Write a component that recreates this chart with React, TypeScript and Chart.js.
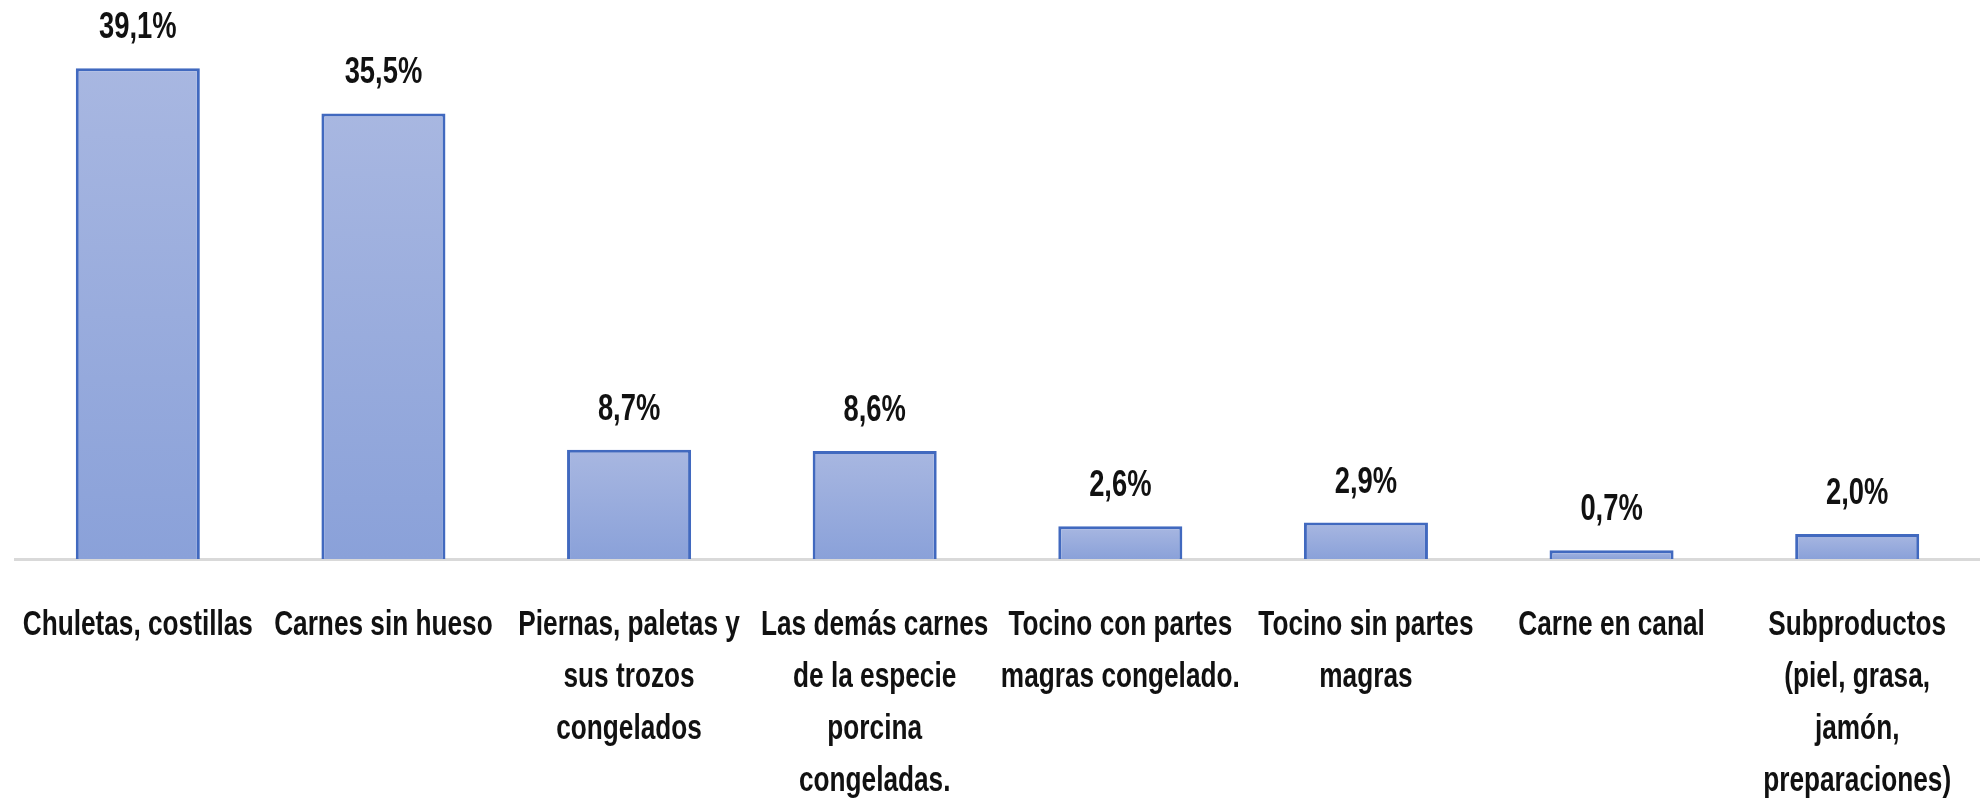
import React, { useEffect, useRef } from "react";
import { Chart, registerables } from "chart.js";

Chart.register(...registerables);

const categories: string[][] = [
  ["Chuletas, costillas"],
  ["Carnes sin hueso"],
  ["Piernas, paletas y", "sus trozos", "congelados"],
  ["Las demás carnes", "de la especie", "porcina", "congeladas."],
  ["Tocino con partes", "magras congelado."],
  ["Tocino sin partes", "magras"],
  ["Carne en canal"],
  ["Subproductos", "(piel, grasa,", "jamón,", "preparaciones)"],
];

const shares: number[] = [39.1, 35.5, 8.7, 8.6, 2.6, 2.9, 0.7, 2.0];

const FONT = '"Liberation Sans", Arial, sans-serif';
const SQUEEZE = 0.76;

function drawSqueezed(ctx: CanvasRenderingContext2D, txt: string, x: number, y: number) {
  ctx.save();
  ctx.translate(x, y);
  ctx.scale(SQUEEZE, 1);
  ctx.fillText(txt, 0, 0);
  ctx.restore();
}

const labelsPlugin = {
  id: "labelsPlugin",
  afterDatasetsDraw(chart: any) {
    const ctx = chart.ctx as CanvasRenderingContext2D;
    const meta = chart.getDatasetMeta(0);
    const xs = chart.scales.x;
    const base = chart.chartArea.bottom;
    ctx.save();
    ctx.fillStyle = "#111111";
    ctx.textAlign = "center";
    // value labels
    ctx.font = `bold 36px ${FONT}`;
    ctx.textBaseline = "alphabetic";
    meta.data.forEach((bar: any, i: number) => {
      const txt = shares[i].toFixed(1).replace(".", ",") + "%";
      drawSqueezed(ctx, txt, bar.x, bar.y - 30);
    });
    // category labels
    ctx.font = `bold 34.5px ${FONT}`;
    ctx.textBaseline = "middle";
    categories.forEach((lines, i) => {
      const x = xs.getPixelForValue(i);
      lines.forEach((ln, j) => {
        drawSqueezed(ctx, ln, x, base + 66 + j * 52);
      });
    });
    ctx.restore();
  },
};

export default function App() {
  const ref = useRef<HTMLCanvasElement | null>(null);
  useEffect(() => {
    if (!ref.current) return;
    const chart = new Chart(ref.current, {
      type: "bar",
      data: {
        labels: categories.map((c) => c.join(" ")),
        datasets: [
          {
            data: shares,
            backgroundColor: (c: any) => {
              const chartObj = c.chart;
              const y = chartObj.scales && chartObj.scales.y;
              if (!y || c.raw === undefined) return "#9cafdd";
              const top = y.getPixelForValue(c.raw);
              const b = y.getPixelForValue(0);
              if (!isFinite(top) || !isFinite(b) || b - top < 1) return "#9cafdd";
              const g = chartObj.ctx.createLinearGradient(0, top, 0, b);
              g.addColorStop(0, "#a8b7e1");
              g.addColorStop(1, "#8aa1d9");
              return g;
            },
            borderColor: "#4169bf",
            borderWidth: 3,
            borderSkipped: "bottom",
            categoryPercentage: 1,
            barPercentage: 0.505,
          },
        ],
      },
      options: {
        responsive: false,
        animation: false,
        layout: { padding: { top: 57, left: 15, right: 0, bottom: 0 } },
        plugins: { legend: { display: false }, tooltip: { enabled: false } },
        scales: {
          x: {
            grid: { display: false, drawTicks: false },
            border: { display: true, color: "#d9d9d9", width: 3 },
            ticks: { display: false },
            afterFit: (scale: any) => {
              scale.height = 805 - 559;
            },
          },
          y: {
            display: false,
            min: 0,
            max: 40,
          },
        },
      },
      plugins: [labelsPlugin],
    });
    return () => chart.destroy();
  }, []);
  return (
    <div style={{ position: "absolute", left: 0, top: 0, width: 1980, height: 805, background: "#ffffff" }}>
      <canvas ref={ref} width={1980} height={805} style={{ width: 1980, height: 805, display: "block" }} />
    </div>
  );
}
